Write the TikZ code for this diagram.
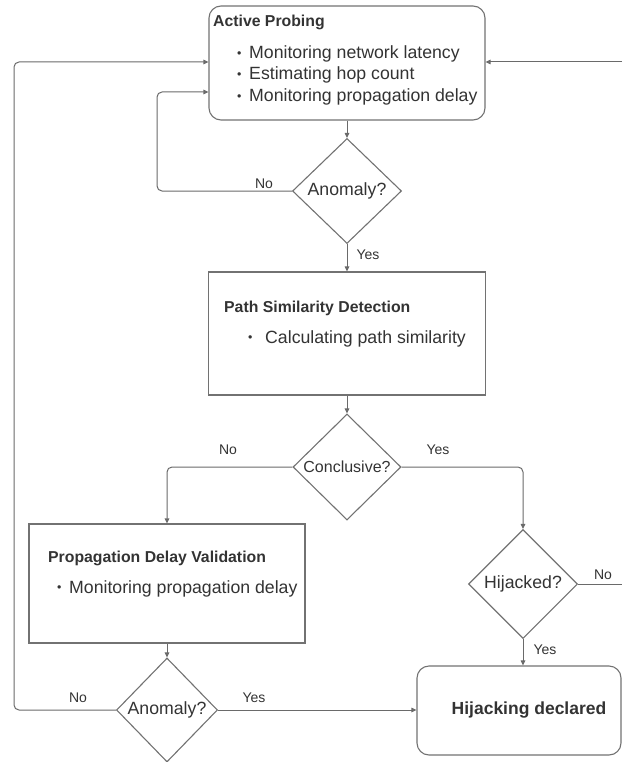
\documentclass[tikz,border=0pt]{standalone}
\usepackage{fontspec}
\setmainfont{Liberation Sans}
\usetikzlibrary{arrows.meta,shapes.geometric}
\definecolor{linegray}{HTML}{6A6A6A}
\definecolor{boxgray}{HTML}{727272}
\definecolor{txtgray}{HTML}{333333}
\newcommand\bul[1]{\makebox[#1][l]{\raisebox{0.08em}{\scalebox{0.7}{\textbullet}}}}
\begin{document}
\begin{tikzpicture}[x=1pt,y=-1pt,
  line/.style={draw=linegray,line width=1pt,rounded corners=5pt},
  arr/.style={line,-{Triangle[length=5pt,width=4.5pt]}},
  box/.style={draw=boxgray,line width=1.1pt,inner sep=0pt},
  dia/.style={draw=boxgray,line width=1.1pt,diamond,inner sep=0pt,text=txtgray,font=\fontsize{17.7pt}{20pt}\selectfont},
  title/.style={anchor=base west,inner sep=0pt,text=txtgray,font=\bfseries\fontsize{15.8pt}{19pt}\selectfont},
  item/.style={anchor=base west,inner sep=0pt,text=txtgray,font=\fontsize{17.7pt}{21pt}\selectfont},
  lab/.style={inner sep=0pt,text=txtgray,font=\fontsize{14pt}{16pt}\selectfont}]
\useasboundingbox (0,0) rectangle (622,762);

% boxes
\node[box,rounded corners=12pt,minimum width=276pt,minimum height=114pt] (p1) at (347,63) {};
\node[box,minimum width=277pt,minimum height=123pt] (p2) at (347,333.5) {};
\node[box,minimum width=276pt,minimum height=119pt] (p3) at (167,583.5) {};
\node[box,rounded corners=12pt,minimum width=204pt,minimum height=89pt] (p4) at (519,710.5) {};

% diamonds
\node[dia,minimum width=109pt,minimum height=105pt] (d1) at (347,191) {Anomaly?};
\node[dia,minimum width=108pt,minimum height=106pt,font=\fontsize{16pt}{18pt}\selectfont] (d2) at (347,467) {Conclusive?};
\node[dia,minimum width=109pt,minimum height=109pt] (d3) at (523,584) {Hijacked?};
\node[dia,minimum width=101pt,minimum height=104pt] (d4) at (167,710) {Anomaly?};

% box texts
\node[title] (t1) at (213,26.6) {Active Probing};
\node[item] (i1a) at (237,59) {\bul{12pt}Monitoring network latency};
\node[item] (i1b) at (237,80) {\bul{12pt}Estimating hop count};
\node[item] (i1c) at (237,102) {\bul{12pt}Monitoring propagation delay};

\node[title] (t2) at (224,312) {Path Similarity Detection};
\node[item] (i2a) at (248,343) {\bul{17pt}Calculating path similarity};

\node[title] (t3) at (48,562) {Propagation Delay Validation};
\node[item] (i3a) at (57,593) {\bul{12pt}Monitoring propagation delay};

\node[anchor=base,inner sep=0pt,text=txtgray,font=\bfseries\fontsize{17.5pt}{20pt}\selectfont] (t4) at (529,714) {Hijacking declared};

% connector free ends
\coordinate (r1) at (622,584);
\coordinate (r2) at (622,62);

% connectors
\draw[arr] (p1.south) -- (d1.north);
\draw[arr] (d1.west) -- (157,191) -- (157,92) -- (p1.west |- 0,92);
\draw[arr] (d1.south) -- (p2.north);
\draw[arr] (p2.south) -- (d2.north);
\draw[arr] (d2.west) -| (p3.north);
\draw[arr] (d2.east) -| (d3.north);
\draw[line] (d3.east) -- (r1);
\draw[arr] (r2) -- (p1.east |- r2);
\draw[arr] (d3.south) -- (d3.south |- p4.north);
\draw[arr] (p3.south) -- (d4.north);
\draw[arr] (d4.west) -- (14,710) -- (14,62) -- (p1.west |- r2);
\draw[arr] (d4.east) -- (d4.east -| p4.west);

% labels
\node[lab] (l1) at (264,184) {No};
\node[lab] (l2) at (368,255) {Yes};
\node[lab] (l3) at (228,450) {No};
\node[lab] (l4) at (438,450) {Yes};
\node[lab] (l5) at (603,575) {No};
\node[lab] (l6) at (545,650) {Yes};
\node[lab] (l7) at (78,698) {No};
\node[lab] (l8) at (254,698) {Yes};
\end{tikzpicture}
\end{document}
